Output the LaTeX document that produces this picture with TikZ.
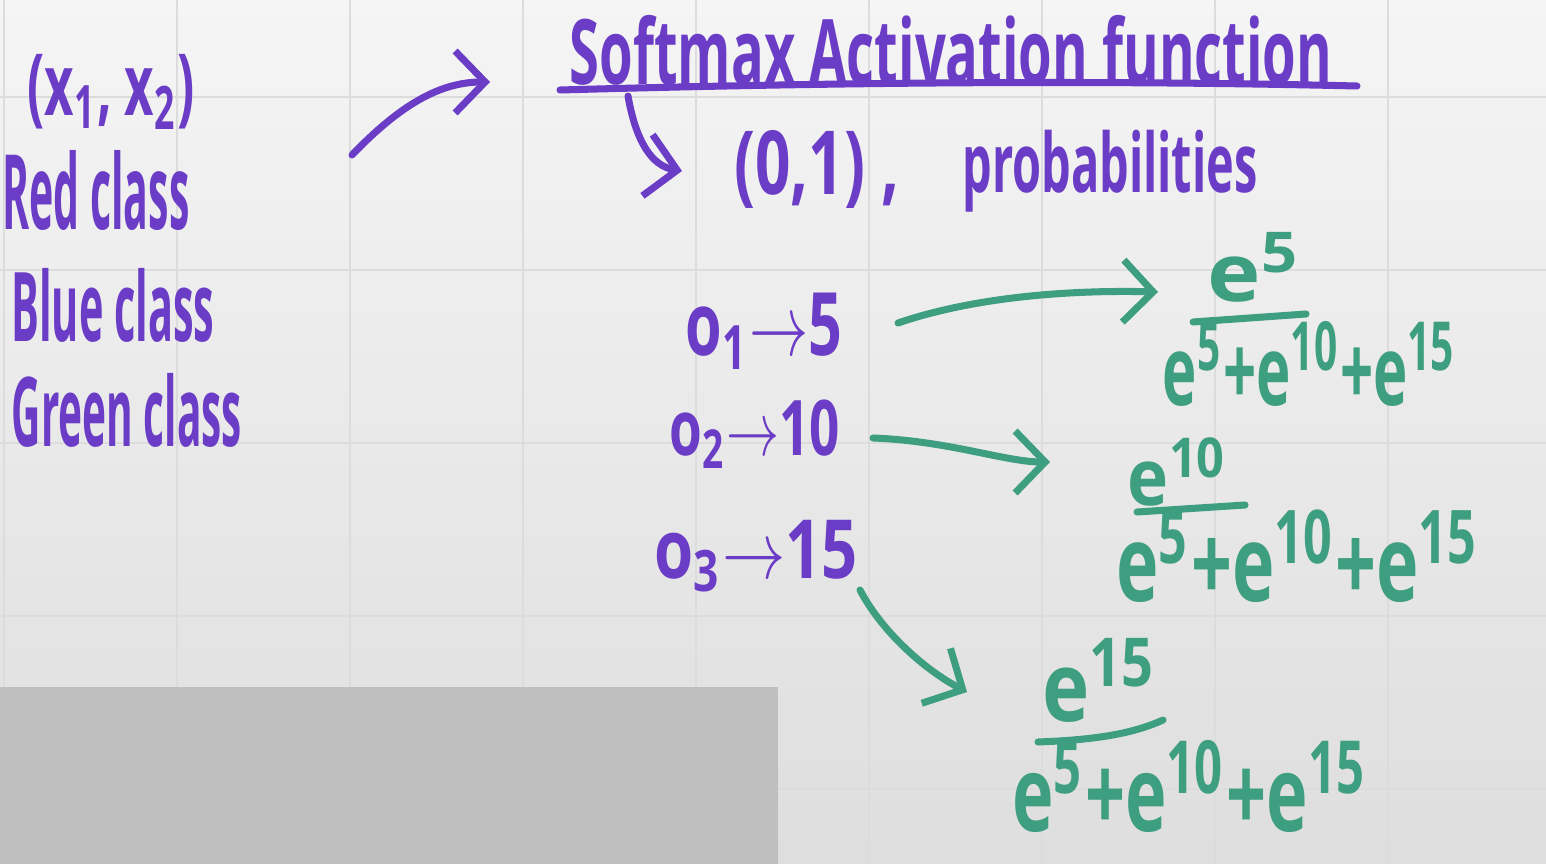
\documentclass[tikz,border=0pt]{standalone}
\usepackage{fontspec}
\newfontfamily\handfont{Open Sans}
\usetikzlibrary{arrows.meta}
\definecolor{penpurple}{HTML}{6B3CC6}
\definecolor{pengreen}{HTML}{3E9E80}
\definecolor{gridgray}{HTML}{DCDCDC}
% testo "a mano": larghezza e altezza totali imposte
\newcommand{\handfit}[3]{\resizebox*{#1}{#2}{\handfont\bfseries #3}}

\begin{document}
\begin{tikzpicture}[x=0.01cm, y=-0.01cm, >={Straight Barb[length=3mm,width=6.2mm]}]
% Stili per penna e scritte
\tikzset{
  penp/.style={draw=penpurple, line width=2pt, line cap=round, line join=round},
  peng/.style={draw=pengreen, line width=2pt, line cap=round, line join=round},
  wp/.style={text=penpurple, inner sep=0pt},
  wg/.style={text=pengreen, inner sep=0pt},
  gridline/.style={draw=gridgray, line width=0.6pt}
}
\useasboundingbox (0,0) rectangle (1546,864);

% --- LAVAGNA ---
\shade[top color=black!4, bottom color=black!13] (0,0) rectangle (1546,864);
\foreach \gx in {4,177,...,1388} \draw[gridline] (\gx,0) -- (\gx,864);
\foreach \gy in {97,270,...,789} \draw[gridline] (0,\gy) -- (1546,\gy);
\fill[black!25] (0,687) rectangle (778,864);

% --- INGRESSI E CLASSI ---
\node[wp] (pair)  at (111,92)  {\handfit{1.67cm}{0.75cm}{(x\textsubscript{1}, x\textsubscript{2})}};
\node[wp] (red)   at (96,190)  {\handfit{1.87cm}{0.80cm}{Red class}};
\node[wp] (blue)  at (113,305) {\handfit{2.03cm}{0.74cm}{Blue class}};
\node[wp] (green) at (127,410) {\handfit{2.30cm}{0.74cm}{Green class}};

\coordinate (inA) at (352,155);
\coordinate (inB) at (490,82);
\draw[penp, ->] (inA) .. controls (400,105) and (440,82) .. (inB);

% --- TITOLO ---
\node[wp] (title) at (951,50) {\handfit{7.62cm}{0.70cm}{Softmax Activation function}};
\draw[penp] (560,90) .. controls (850,82) and (1100,80) .. (1357,86);

\coordinate (hookA) at (628,96);
\coordinate (hookB) at (682,171);
\draw[penp, ->] (hookA) .. controls (636,142) and (652,166) .. (hookB);

\node[wp] (range) at (817,169)  {\handfit{1.65cm}{0.78cm}{(0,1) ,}};
\node[wp] (prob)  at (1110,171) {\handfit{2.95cm}{0.82cm}{probabilities}};

% --- USCITE ---
\node[wp] (o1) at (764,331) {\handfit{1.56cm}{0.76cm}{o\textsubscript{1}$\rightarrow$5}};
\node[wp] (o2) at (755,434) {\handfit{1.70cm}{0.68cm}{o\textsubscript{2}$\rightarrow$10}};
\node[wp] (o3) at (756,556) {\handfit{2.03cm}{0.72cm}{o\textsubscript{3}$\rightarrow$15}};

% --- FRAZIONI SOFTMAX ---
\node[wg] (n1) at (1255,267) {\handfit{0.94cm}{0.70cm}{e\textsuperscript{5}}};
\node[wg] (d1) at (1310,364) {\handfit{2.94cm}{0.85cm}{e\textsuperscript{5}+e\textsuperscript{10}+e\textsuperscript{15}}};
\draw[peng] (1193,322) -- (1306,314);

\node[wg] (n2) at (1178,472) {\handfit{1.00cm}{0.69cm}{e\textsuperscript{10}}};
\node[wg] (d2) at (1298,556) {\handfit{3.63cm}{0.93cm}{e\textsuperscript{5}+e\textsuperscript{10}+e\textsuperscript{15}}};
\draw[peng] (1137,512) -- (1245,505);

\node[wg] (n3) at (1100,680) {\handfit{1.15cm}{0.84cm}{e\textsuperscript{15}}};
\node[wg] (d3) at (1190,786) {\handfit{3.55cm}{0.92cm}{e\textsuperscript{5}+e\textsuperscript{10}+e\textsuperscript{15}}};
\draw[peng] (1038,742) .. controls (1090,740) and (1130,735) .. (1163,720);

% Frecce verdi
\coordinate (o1out) at (898,323);
\coordinate (f1in)  at (1158,292);
\coordinate (o2out) at (873,438);
\coordinate (f2in)  at (1050,462);
\coordinate (o3out) at (860,590);
\coordinate (f3in)  at (967,692);
\draw[peng, ->] (o1out) .. controls (980,295) and (1080,290) .. (f1in);
\draw[peng, ->] (o2out) .. controls (950,441) and (1005,462) .. (f2in);
\draw[peng, ->] (o3out) .. controls (882,632) and (925,670) .. (f3in);

\end{tikzpicture}
\end{document}
